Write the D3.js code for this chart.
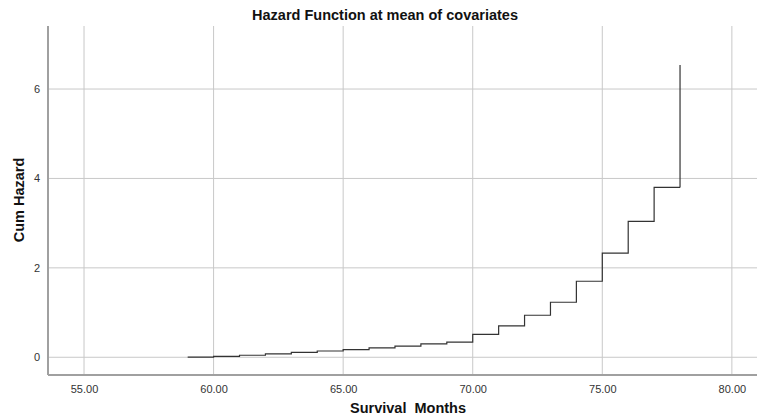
<!DOCTYPE html>
<html><head><meta charset="utf-8">
<script src="https://cdn.jsdelivr.net/npm/d3@7"></script>
<style>body{margin:0;background:#fff}svg{display:block;font-family:"Liberation Sans",Arial,sans-serif}</style>
</head><body><svg id="c" width="757" height="416"></svg>
<script>
const months = [59,60,61,62,63,64,65,66,67,68,69,70,71,72,73,74,75,76,77,78];
const cumHazard = [0.005,0.02,0.045,0.075,0.11,0.14,0.17,0.21,0.25,0.30,0.34,0.51,0.70,0.94,1.23,1.70,2.33,3.04,3.80,6.54];
const xTicks = [55,60,65,70,75,80];
const yTicks = [0,2,4,6];

const svg = d3.select("#c");
const L = 48, R = 757, T = 26, B = 375;
const x = d3.scaleLinear().domain([53.61, 80.97]).range([L, R]);
const y = d3.scaleLinear().domain([-0.397, 7.41]).range([B, T]);

// grid
svg.append("g").selectAll("line").data(xTicks).join("line")
  .attr("x1", d => x(d)).attr("x2", d => x(d)).attr("y1", T).attr("y2", B)
  .attr("stroke", "#c8c8c8").attr("stroke-width", 1);
svg.append("g").selectAll("line").data(yTicks).join("line")
  .attr("x1", L).attr("x2", R).attr("y1", d => y(d)).attr("y2", d => y(d))
  .attr("stroke", "#c8c8c8").attr("stroke-width", 1);

// axes
const xa = svg.append("g").attr("transform", `translate(0,${B})`)
  .call(d3.axisBottom(x).tickValues(xTicks).tickFormat(d3.format(".2f")).tickSize(0).tickPadding(10));
const ya = svg.append("g").attr("transform", `translate(${L},0)`)
  .call(d3.axisLeft(y).tickValues(yTicks).tickFormat(d3.format("d")).tickSize(0).tickPadding(8));
[xa, ya].forEach(g => {
  g.select(".domain").attr("stroke", "#a0a0a0").attr("stroke-width", 2);
  g.selectAll("text").attr("font-size", 11).attr("fill", "#333").attr("font-family", "Liberation Sans, Arial, sans-serif");
});
ya.select(".domain").attr("d", `M0,${T}V${B}`);
xa.select(".domain").attr("d", `M${L},0H${R}`);

// step line
const pts = months.map((m, i) => [m, cumHazard[i]]);
const last = pts[pts.length - 1];
const stepPts = pts.slice(0, -1);
stepPts.push([last[0], pts[pts.length - 2][1]]);
const line = d3.line().x(d => x(d[0])).y(d => y(d[1])).curve(d3.curveStepAfter);
svg.append("path").datum(stepPts).attr("d", line)
  .attr("fill", "none").attr("stroke", "#333").attr("stroke-width", 1.2);
svg.append("line")
  .attr("x1", x(last[0])).attr("x2", x(last[0]))
  .attr("y1", y(pts[pts.length - 2][1])).attr("y2", y(last[1]))
  .attr("stroke", "#333").attr("stroke-width", 1.2);

// titles
svg.append("text").attr("x", 385).attr("y", 20).attr("text-anchor", "middle")
  .attr("font-size", 14.5).attr("font-weight", "bold").attr("fill", "#111")
  .text("Hazard Function at mean of covariates");
svg.append("text").attr("x", 408).attr("y", 413).attr("text-anchor", "middle")
  .attr("font-size", 14.5).attr("font-weight", "bold").attr("fill", "#111")
  .style("white-space", "pre").text("Survival  Months");
svg.append("text").attr("transform", "translate(24,200) rotate(-90)").attr("text-anchor", "middle")
  .attr("font-size", 14.5).attr("font-weight", "bold").attr("fill", "#111")
  .text("Cum Hazard");
</script></body></html>
